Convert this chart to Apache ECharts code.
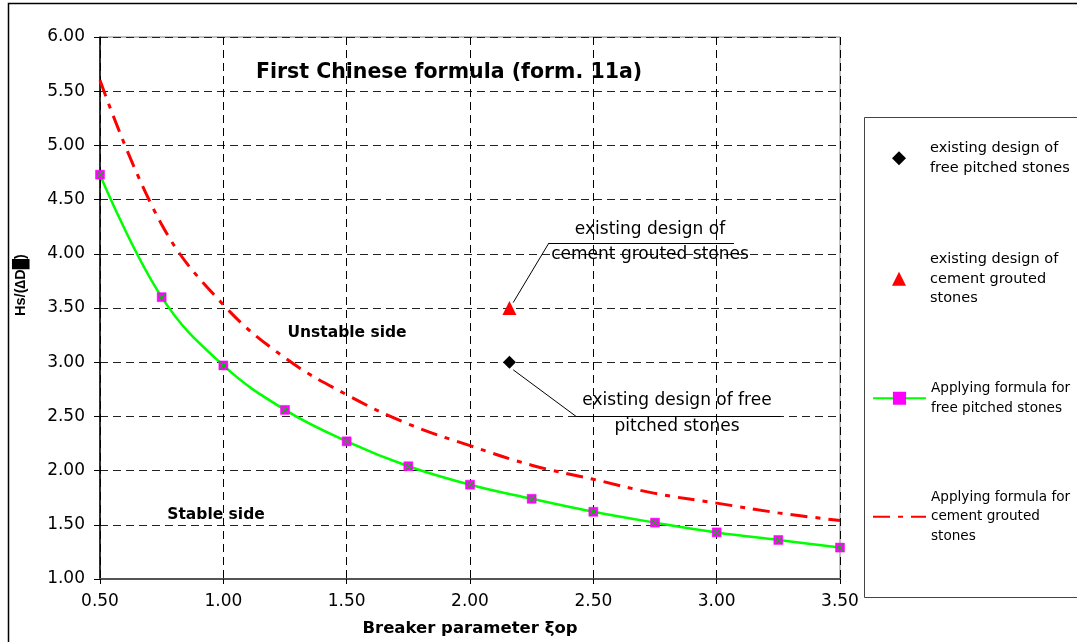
<!DOCTYPE html>
<html>
<head>
<meta charset="utf-8">
<script src="https://cdn.jsdelivr.net/npm/echarts@6/dist/echarts.min.js"></script>
<style>
  html, body { margin: 0; padding: 0; background: #fff; }
  #main { width: 1077px; height: 642px; }
</style>
</head>
<body>
<div id="main"></div>
<script>
// breaker parameter values
var xi = [0.5, 0.75, 1.0, 1.25, 1.5, 1.75, 2.0, 2.25, 2.5, 2.75, 3.0, 3.25, 3.5];
// formula curves
var freePitched = [4.73, 3.60, 2.97, 2.56, 2.27, 2.04, 1.87, 1.74, 1.62, 1.52, 1.43, 1.36, 1.29];
var cementGrouted = [5.60, 4.27, 3.53, 3.04, 2.70, 2.43, 2.23, 2.05, 1.92, 1.79, 1.70, 1.61, 1.54];
// existing designs
var existingFree = [[2.16, 3.00]];
var existingCement = [[2.16, 3.50]];

var NAME_EF = 'existing design of\nfree pitched stones';
var NAME_EC = 'existing design of\ncement grouted\nstones';
var NAME_FF = 'Applying formula for\nfree pitched stones';
var NAME_FC = 'Applying formula for\ncement grouted\nstones';

var FONT = "'DejaVu Sans', sans-serif";
var LH = 19.5;

function pairs(xs, ys) {
    return xs.map(function (x, i) { return [x, ys[i]]; });
}

// one legend per entry so each can sit where the reference puts it
function legendAt(name, left, top, lines, w, h, padLeft, size) {
    return {
        data: [name],
        orient: 'vertical',
        left: left,
        top: top,
        padding: 0,
        itemWidth: w,
        itemHeight: h,
        itemGap: 0,
        selectedMode: false,
        textStyle: {
            fontFamily: FONT,
            fontSize: size,
            color: '#000',
            lineHeight: LH,
            padding: [(lines - 1) * LH, 0, 0, padLeft]
        }
    };
}

var legends = [
    legendAt(NAME_EF, 892, 129, 2, 14, 14, 19, 14.5),
    legendAt(NAME_EC, 892, 230, 3, 14, 14, 19, 14.5),
    legendAt(NAME_FF, 872, 369, 2, 53, 14, 0, 13.6),
    legendAt(NAME_FC, 872, 468, 3, 53, 14, 0, 13.6)
];
legends[3].itemStyle = { opacity: 0 };

var chart = echarts.init(document.getElementById('main'));
chart.setOption({
    animation: false,
    backgroundColor: '#fff',
    textStyle: { fontFamily: FONT },
    grid: {
        left: 100,
        right: 237,
        top: 37,
        bottom: 63,
        show: true,
        borderColor: '#808080',
        borderWidth: 1
    },
    legend: legends,
    xAxis: {
        type: 'value',
        min: 0.5,
        max: 3.5,
        interval: 0.5,
        name: 'Breaker parameter \u03BEop',
        nameLocation: 'middle',
        nameGap: 41,
        nameTextStyle: { fontFamily: FONT, fontSize: 16.5, fontWeight: 'bold', color: '#000' },
        axisLine: { onZero: false, lineStyle: { color: '#555', width: 2 } },
        axisTick: { show: true, length: 5, lineStyle: { color: '#000' } },
        axisLabel: {
            margin: 14,
            fontSize: 17,
            color: '#000',
            formatter: function (v) { return v.toFixed(2); }
        },
        splitLine: { show: true, lineStyle: { color: '#000', type: [8, 5], width: 1 } }
    },
    yAxis: {
        type: 'value',
        min: 1,
        max: 6,
        interval: 0.5,
        name: 'Hs/(\u2206D\u2588)',
        nameLocation: 'middle',
        nameGap: 72,
        nameRotate: 90,
        nameTextStyle: {
            fontFamily: "'Liberation Sans', Arial, sans-serif", fontSize: 14.5, fontWeight: 'bold', color: '#000',
            padding: [0, 0, 0, 46]
        },
        axisLine: { show: true, onZero: false, lineStyle: { color: '#000', width: 1.5 } },
        axisTick: { show: true, length: 6, lineStyle: { color: '#000' } },
        axisLabel: {
            margin: 15,
            fontSize: 17,
            color: '#000',
            formatter: function (v) { return v.toFixed(2); }
        },
        splitLine: { show: true, lineStyle: { color: '#222', type: [8, 5], width: 1 } }
    },
    series: [
        {
            name: NAME_FC,
            type: 'line',
            data: pairs(xi, cementGrouted),
            smooth: 0.4,
            showSymbol: false,
            symbol: 'none',
            lineStyle: { color: '#ff0000', width: 3, type: [17, 8, 5, 8] },
            itemStyle: { color: '#ff0000' },
            z: 3
        },
        {
            name: NAME_FF,
            type: 'line',
            data: pairs(xi, freePitched),
            smooth: 0.4,
            symbol: 'rect',
            symbolSize: 9,
            lineStyle: { color: '#00ff00', width: 2.5 },
            itemStyle: { color: '#ff00ff', borderColor: '#ff00ff', borderWidth: 0.5 },
            z: 4
        },
        {
            // green cross inside the magenta markers
            type: 'scatter',
            data: pairs(xi, freePitched),
            symbol: 'path://M0,0L1,1M1,0L0,1',
            symbolSize: 6,
            itemStyle: { color: 'none', borderColor: '#00c000', borderWidth: 1.2, opacity: 1 },
            silent: true,
            z: 5
        },
        {
            name: NAME_EF,
            type: 'scatter',
            data: existingFree,
            symbol: 'diamond',
            symbolSize: 13,
            itemStyle: { color: '#000', opacity: 1 },
            z: 5,
            markLine: {
                silent: true,
                animation: false,
                label: { show: false },
                lineStyle: { color: '#000', width: 1, type: 'solid' },
                symbolSize: [0, 8],
                data: [
                    [{ coord: [2.43, 2.50], symbol: 'none' }, { coord: [3.26, 2.50], symbol: 'none' }],
                    [{ coord: [2.43, 2.50], symbol: 'none' }, { coord: [2.175, 2.93], symbol: 'arrow' }]
                ]
            }
        },
        {
            name: NAME_EC,
            type: 'scatter',
            data: existingCement,
            symbol: 'triangle',
            symbolSize: 14,
            itemStyle: { color: '#ff0000', opacity: 1 },
            z: 5,
            markLine: {
                silent: true,
                animation: false,
                label: { show: false },
                lineStyle: { color: '#000', width: 1, type: 'solid' },
                symbolSize: [0, 8],
                data: [
                    [{ coord: [2.32, 4.10], symbol: 'none' }, { coord: [3.07, 4.10], symbol: 'none' }],
                    [{ coord: [2.32, 4.10], symbol: 'none' }, { coord: [2.175, 3.55], symbol: 'arrow' }]
                ]
            }
        }
    ],
    graphic: [
        // outer chart border
        { type: 'rect', shape: { x: 8.5, y: 3.5, width: 1100, height: 700 },
          style: { fill: null, stroke: '#000', lineWidth: 1.5 }, silent: true, z: -1 },
        // legend box
        { type: 'rect', shape: { x: 864.5, y: 117.5, width: 230, height: 480 },
          style: { fill: null, stroke: '#444', lineWidth: 1 }, silent: true, z: -1 },
        { type: 'text', x: 449, y: 73, style: {
            text: 'First Chinese formula (form. 11a)', font: 'bold 20.5px ' + FONT,
            fill: '#000', align: 'center', verticalAlign: 'middle' }, z: 10 },
        { type: 'text', x: 347, y: 333, style: {
            text: 'Unstable side', font: 'bold 15.5px ' + FONT,
            fill: '#000', align: 'center', verticalAlign: 'middle' }, z: 10 },
        { type: 'text', x: 216, y: 515, style: {
            text: 'Stable side', font: 'bold 15.5px ' + FONT,
            fill: '#000', align: 'center', verticalAlign: 'middle' }, z: 10 },
        { type: 'text', x: 650, y: 242, style: {
            text: 'existing design of\ncement grouted stones', font: '17px ' + FONT,
            lineHeight: 25, fill: '#000', align: 'center', verticalAlign: 'middle' }, z: 10 },
        { type: 'text', x: 677, y: 414, style: {
            text: 'existing design of free\npitched stones', font: '17px ' + FONT,
            lineHeight: 26, fill: '#000', align: 'center', verticalAlign: 'middle' }, z: 10 }
    ]
});
</script>
</body>
</html>
